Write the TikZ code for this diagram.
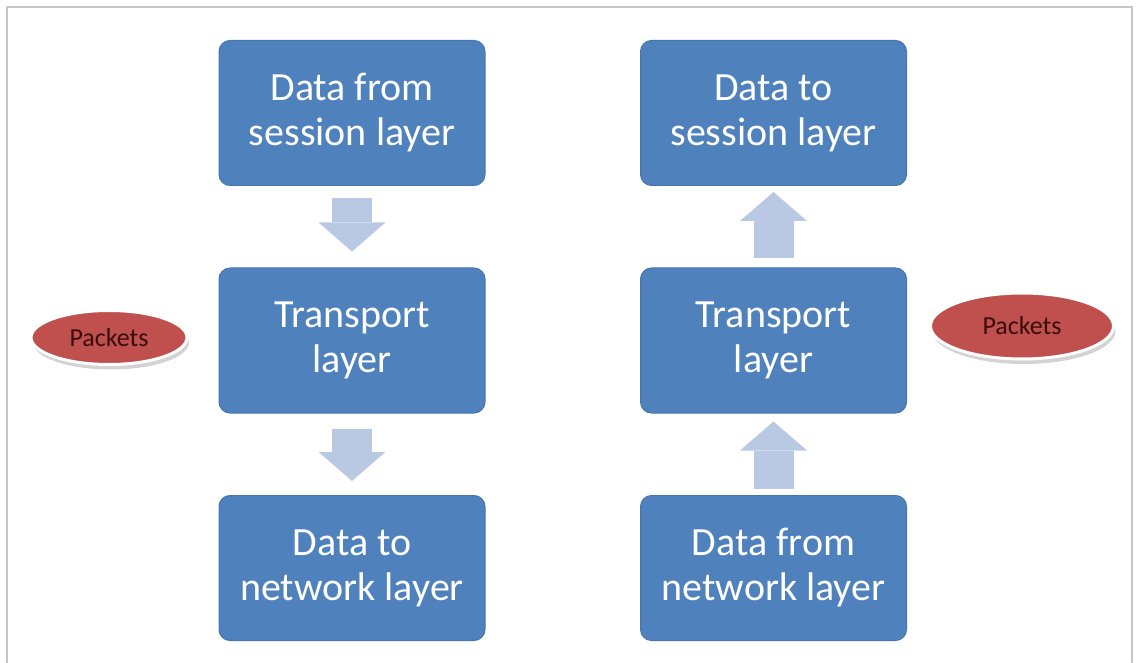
\documentclass[tikz,border=0pt]{standalone}
\usepackage{fontspec}
\setmainfont{Carlito}
\usetikzlibrary{arrows.meta,shapes.geometric,shadows}

\definecolor{boxblue}{HTML}{4F81BD}
\definecolor{boxedge}{HTML}{4576B1}
\definecolor{flowblue}{HTML}{B9C9E4}
\definecolor{packred}{HTML}{C0504D}
\definecolor{packtext}{HTML}{3A0C0C}

\begin{document}
\begin{tikzpicture}[
		x=1pt, y=-1pt,
		line cap=round,
		line join=round,
		layerbox/.style={draw=boxedge, fill=boxblue, line width=1pt,
			rounded corners=11pt, minimum width=266pt, minimum height=145pt,
			align=center, text=white, font=\fontsize{40}{45}\selectfont},
		flow/.style={draw=flowblue, line width=40pt, line cap=butt,
			-{Triangle[length=29pt, width=67pt, line width=0pt]}},
		packet/.style={ellipse, fill=packred, draw=white, line width=3pt,
			inner sep=0pt, text=packtext, font=\fontsize{26}{30}\selectfont,
			drop shadow={shadow xshift=2pt, shadow yshift=-5pt, opacity=0.35}}
		]
		\useasboundingbox (0,0) rectangle (1136,663);
		
		% --------------------------------
		% Outer frame
		% --------------------------------
		\draw[gray!45, line width=1.5pt, line cap=butt]
		(7,663) -- (7,7) -- (1132,7) -- (1132,663);
		
		% --------------------------------
		% Sending side
		% --------------------------------
		\node[layerbox] (sendsess) at (352,113) {Data from\\session layer};
		\node[layerbox] (sendtrans) at (352,340.5) {Transport\\layer};
		\node[layerbox] (sendnet) at (352,568) {Data to\\network layer};
		
		\draw[flow, shorten <=12pt, shorten >=16pt] (sendsess) -- (sendtrans);
		\draw[flow, shorten <=15pt, shorten >=14pt] (sendtrans) -- (sendnet);
		
		% --------------------------------
		% Receiving side
		% --------------------------------
		\node[layerbox] (recvsess) at (773.5,113) {Data to\\session layer};
		\node[layerbox] (recvtrans) at (773.5,340.5) {Transport\\layer};
		\node[layerbox] (recvnet) at (773.5,568) {Data from\\network layer};
		
		\draw[flow, shorten <=9pt, shorten >=6pt] (recvtrans) -- (recvsess);
		\draw[flow, shorten <=6pt, shorten >=8pt] (recvnet) -- (recvtrans);
		
		% --------------------------------
		% Packets
		% --------------------------------
		\node[packet, minimum width=156pt, minimum height=54pt] (sendpk) at (109,337.5) {Packets};
		\node[packet, minimum width=183pt, minimum height=66pt] (recvpk) at (1022,326) {Packets};
		
	\end{tikzpicture}
\end{document}
